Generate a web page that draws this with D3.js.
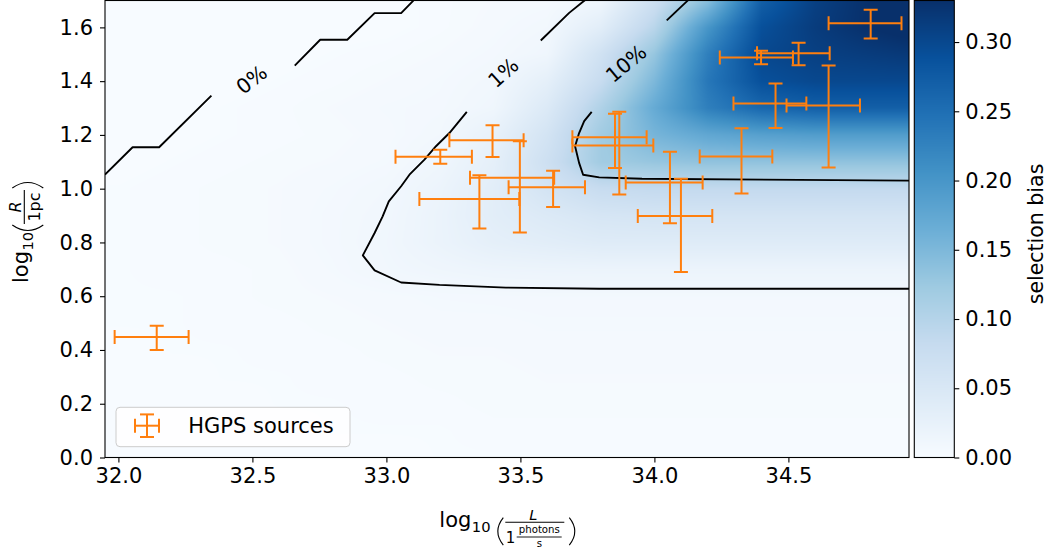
<!DOCTYPE html>
<html>
<head>
<meta charset="utf-8">
<script src="https://cdn.jsdelivr.net/npm/d3@7"></script>
<style>
  body { margin: 0; background: #ffffff; }
  svg { display: block; font-family: "DejaVu Sans", sans-serif; }
</style>
</head>
<body>
<svg id="chart" width="1048" height="554"></svg>
<script>
// ---------------- data ----------------
// selection-bias field sampled on a regular grid (rows follow gridLogR, columns gridLogL)
const gridLogL = [32.0, 32.2, 32.4, 32.6, 32.8, 33.0, 33.2, 33.4, 33.6, 33.8, 34.0, 34.2, 34.4, 34.6, 34.8, 35.0];
const gridLogR = [0.0, 0.1, 0.2, 0.3, 0.4, 0.5, 0.6, 0.7, 0.8, 0.9, 1.0, 1.1, 1.2, 1.3, 1.4, 1.5, 1.6, 1.7];
const biasRow00 = [0, 0, 0, 0, 0, 0, 0.001, 0.001, 0.001, 0.001, 0.001, 0.001, 0.001, 0.001, 0.001, 0.001];
const biasRow01 = [0, 0, 0, 0, 0.001, 0.001, 0.001, 0.002, 0.002, 0.002, 0.002, 0.002, 0.002, 0.002, 0.002, 0.002];
const biasRow02 = [0, 0, 0, 0.001, 0.001, 0.002, 0.002, 0.003, 0.003, 0.003, 0.003, 0.003, 0.003, 0.003, 0.003, 0.003];
const biasRow03 = [0, 0, 0.001, 0.001, 0.002, 0.002, 0.003, 0.003, 0.004, 0.004, 0.004, 0.004, 0.004, 0.004, 0.004, 0.004];
const biasRow04 = [0, 0.001, 0.001, 0.002, 0.002, 0.003, 0.004, 0.004, 0.005, 0.005, 0.005, 0.005, 0.005, 0.005, 0.005, 0.005];
const biasRow05 = [0.001, 0.001, 0.002, 0.002, 0.003, 0.004, 0.005, 0.005, 0.006, 0.006, 0.006, 0.006, 0.006, 0.006, 0.006, 0.006];
const biasRow06 = [0.001, 0.001, 0.002, 0.003, 0.004, 0.005, 0.0065, 0.007, 0.0075, 0.0075, 0.0075, 0.0075, 0.0075, 0.0075, 0.0075, 0.0075];
const biasRow07 = [0.001, 0.002, 0.002, 0.003, 0.006, 0.0105, 0.014, 0.017, 0.018, 0.0185, 0.0185, 0.0185, 0.0185, 0.0185, 0.0185, 0.0185];
const biasRow08 = [0.001, 0.002, 0.003, 0.004, 0.007, 0.0115, 0.02, 0.03, 0.035, 0.04, 0.04, 0.04, 0.04, 0.04, 0.04, 0.04];
const biasRow09 = [0.001, 0.002, 0.003, 0.004, 0.007, 0.0105, 0.02, 0.035, 0.045, 0.055, 0.058, 0.058, 0.058, 0.058, 0.058, 0.058];
const biasRow10 = [0.001, 0.002, 0.003, 0.004, 0.006, 0.009, 0.018, 0.035, 0.06, 0.08, 0.085, 0.085, 0.085, 0.085, 0.085, 0.085];
const biasRow11 = [0, 0.001, 0.002, 0.003, 0.004, 0.006, 0.013, 0.03, 0.07, 0.12, 0.13, 0.135, 0.135, 0.135, 0.135, 0.135];
const biasRow12 = [0, 0, 0.001, 0.002, 0.003, 0.005, 0.009, 0.025, 0.06, 0.12, 0.155, 0.175, 0.185, 0.19, 0.19, 0.19];
const biasRow13 = [0, 0, 0.001, 0.002, 0.004, 0.006, 0.007, 0.013, 0.045, 0.105, 0.17, 0.23, 0.26, 0.27, 0.27, 0.27];
const biasRow14 = [0, 0, 0, 0.001, 0.002, 0.004, 0.006, 0.010, 0.03, 0.08, 0.15, 0.24, 0.29, 0.30, 0.30, 0.30];
const biasRow15 = [0, 0, 0, 0, 0.001, 0.002, 0.004, 0.007, 0.013, 0.065, 0.13, 0.23, 0.30, 0.31, 0.315, 0.32];
const biasRow16 = [0, 0, 0, 0, 0, 0, 0.002, 0.005, 0.009, 0.035, 0.095, 0.20, 0.29, 0.315, 0.33, 0.34];
const biasRow17 = [0, 0, 0, 0, 0, 0, 0.002, 0.004, 0.005, 0.013, 0.07, 0.14, 0.27, 0.31, 0.33, 0.34];
const biasGrid = [biasRow00, biasRow01, biasRow02, biasRow03, biasRow04, biasRow05, biasRow06, biasRow07, biasRow08,
                  biasRow09, biasRow10, biasRow11, biasRow12, biasRow13, biasRow14, biasRow15, biasRow16, biasRow17];

// HGPS sources: centre and error-bar extents
const srcLogL     = [32.143, 33.201, 33.396, 33.498, 33.347, 33.622, 33.853, 33.869, 34.058, 34.099, 34.325, 34.452, 34.650, 34.807, 34.538, 34.398];
const srcLogLLow  = [31.986, 33.034, 33.235, 33.312, 33.123, 33.456, 33.694, 33.694, 33.893, 33.938, 34.169, 34.295, 34.493, 34.650, 34.383, 34.244];
const srcLogLHigh = [32.262, 33.319, 33.512, 33.626, 33.496, 33.741, 33.971, 33.996, 34.180, 34.216, 34.440, 34.567, 34.767, 34.922, 34.654, 34.517];
const srcLogR     = [0.448, 1.119, 1.180, 1.041, 0.962, 1.005, 1.191, 1.161, 1.023, 0.898, 1.120, 1.317, 1.309, 1.615, 1.504, 1.488];
const srcLogRLow  = [0.400, 1.093, 1.118, 0.837, 0.852, 0.932, 1.077, 0.978, 0.871, 0.690, 0.982, 1.226, 1.079, 1.559, 1.459, 1.463];
const srcLogRHigh = [0.490, 1.145, 1.236, 1.176, 1.050, 1.067, 1.279, 1.286, 1.137, 1.037, 1.225, 1.391, 1.458, 1.666, 1.543, 1.513];

// contour lines of the bias field (logL, logR), split where the labels sit
const contour0Segments = [
  [[31.95, 1.052], [32.053, 1.154], [32.152, 1.154], [32.347, 1.346]],
  [[32.658, 1.458], [32.753, 1.554], [32.854, 1.554], [32.956, 1.653], [33.055, 1.653], [33.105, 1.704]]
];
const contour1Segments = [
  [[33.576, 1.551], [33.682, 1.654], [33.744, 1.704]],
  [[33.300, 1.286], [33.235, 1.207], [33.185, 1.158], [33.142, 1.108], [33.086, 1.052], [33.055, 1.009],
   [33.009, 0.953], [32.986, 0.897], [32.956, 0.835], [32.912, 0.752], [32.956, 0.696], [33.055, 0.651],
   [33.198, 0.642], [33.446, 0.632], [33.794, 0.628], [34.95, 0.628]]
];
const contour10Segments = [
  [[34.046, 1.626], [34.129, 1.704]],
  [[33.766, 1.286], [33.738, 1.251], [33.719, 1.207], [33.704, 1.158], [33.719, 1.096], [33.734, 1.052],
   [33.794, 1.042], [33.954, 1.037], [34.95, 1.030]]
];
const contourLabelText = ["0%", "1%", "10%"];
const contourLabelLogL = [32.497, 33.436, 33.894];
const contourLabelLogR = [1.406, 1.432, 1.466];

const xTickValues = [32.0, 32.5, 33.0, 33.5, 34.0, 34.5];
const yTickValues = [0.0, 0.2, 0.4, 0.6, 0.8, 1.0, 1.2, 1.4, 1.6];
const cbTickValues = [0.00, 0.05, 0.10, 0.15, 0.20, 0.25, 0.30];
const biasRange = [0, 0.33];
const legendLabel = "HGPS sources";
const colorbarLabel = "selection bias";

// ---------------- layout ----------------
const plot = { left: 105, right: 909, top: 0.5, bottom: 457.5 };
const cbar = { left: 914.3, right: 954.3 };
const FONT = 21;
const ORANGE = "#ff7f0e";

const svg = d3.select("#chart");
const x = d3.scaleLinear().domain([31.95, 34.95]).range([plot.left, plot.right]);
const y = d3.scaleLinear().domain([0, 1.7]).range([plot.bottom, plot.top]);

const bluesStops = ["#f7fbff", "#deebf7", "#c6dbef", "#9ecae1", "#6baed6", "#4292c6", "#2171b5", "#08519c", "#08306b"];
const color = d3.scaleLinear()
  .domain(bluesStops.map((_, i) => biasRange[0] + i * (biasRange[1] - biasRange[0]) / (bluesStops.length - 1)))
  .range(bluesStops)
  .clamp(true);

// colour lookup table
const LUT_N = 2048;
const lut = d3.range(LUT_N).map(i => d3.rgb(color(biasRange[0] + (biasRange[1] - biasRange[0]) * i / (LUT_N - 1))));
function lutColor(v) {
  let t = (v - biasRange[0]) / (biasRange[1] - biasRange[0]);
  t = Math.max(0, Math.min(1, t));
  return lut[Math.round(t * (LUT_N - 1))];
}

// ---------------- heat map ----------------
const gxi = d3.scaleLinear().domain([gridLogL[0], gridLogL[gridLogL.length - 1]]).range([0, gridLogL.length - 1]).clamp(true);
const gyi = d3.scaleLinear().domain([gridLogR[0], gridLogR[gridLogR.length - 1]]).range([0, gridLogR.length - 1]).clamp(true);
function field(lx, ly) {
  const fi = gxi(lx), fj = gyi(ly);
  const i0 = Math.min(Math.floor(fi), gridLogL.length - 2), j0 = Math.min(Math.floor(fj), gridLogR.length - 2);
  const tx = fi - i0, ty = fj - j0;
  const a = biasGrid[j0][i0], b = biasGrid[j0][i0 + 1], c = biasGrid[j0 + 1][i0], d = biasGrid[j0 + 1][i0 + 1];
  return (1 - tx) * (1 - ty) * a + tx * (1 - ty) * b + (1 - tx) * ty * c + tx * ty * d;
}

const pw = Math.round(plot.right - plot.left), ph = Math.round(plot.bottom - plot.top);
const cvs = document.createElement("canvas");
cvs.width = pw; cvs.height = ph;
const ctx = cvs.getContext("2d");
const img = ctx.createImageData(pw, ph);
for (let j = 0; j < ph; j++) {
  const ly = y.invert(plot.top + j + 0.5);
  for (let i = 0; i < pw; i++) {
    const lx = x.invert(plot.left + i + 0.5);
    const c = lutColor(field(lx, ly));
    const k = (j * pw + i) * 4;
    img.data[k] = c.r; img.data[k + 1] = c.g; img.data[k + 2] = c.b; img.data[k + 3] = 255;
  }
}
ctx.putImageData(img, 0, 0);
svg.append("image")
  .attr("x", plot.left).attr("y", plot.top)
  .attr("width", pw).attr("height", ph)
  .attr("preserveAspectRatio", "none")
  .attr("href", cvs.toDataURL());

// clip for plot contents
svg.append("defs").append("clipPath").attr("id", "plotClip")
  .append("rect").attr("x", plot.left).attr("y", plot.top)
  .attr("width", plot.right - plot.left).attr("height", plot.bottom - plot.top);

// ---------------- contours ----------------
const line = d3.line().x(d => x(d[0])).y(d => y(d[1]));
const contourG = svg.append("g").attr("clip-path", "url(#plotClip)");
[contour0Segments, contour1Segments, contour10Segments].forEach(segs => {
  segs.forEach(seg => {
    contourG.append("path").attr("d", line(seg))
      .attr("fill", "none").attr("stroke", "#000").attr("stroke-width", 1.9)
      .attr("stroke-linejoin", "round");
  });
});
const labelAngles = [-38, -42, -40];
contourLabelText.forEach((t, i) => {
  svg.append("text")
    .attr("transform", `translate(${x(contourLabelLogL[i])},${y(contourLabelLogR[i])}) rotate(${labelAngles[i]})`)
    .attr("text-anchor", "middle").attr("dy", "0.36em")
    .attr("font-size", 20.5).attr("fill", "#000").text(t);
});

// ---------------- error bars ----------------
const CAP = 7;
function drawErrorBar(g, cx, cy, xl, xh, yl, yh) {
  const s = (sel) => sel.attr("stroke", ORANGE).attr("stroke-width", 2).attr("fill", "none");
  s(g.append("line").attr("x1", xl).attr("x2", xh).attr("y1", cy).attr("y2", cy));
  s(g.append("line").attr("x1", cx).attr("x2", cx).attr("y1", yl).attr("y2", yh));
  s(g.append("line").attr("x1", xl).attr("x2", xl).attr("y1", cy - CAP).attr("y2", cy + CAP));
  s(g.append("line").attr("x1", xh).attr("x2", xh).attr("y1", cy - CAP).attr("y2", cy + CAP));
  s(g.append("line").attr("x1", cx - CAP).attr("x2", cx + CAP).attr("y1", yl).attr("y2", yl));
  s(g.append("line").attr("x1", cx - CAP).attr("x2", cx + CAP).attr("y1", yh).attr("y2", yh));
}
const barsG = svg.append("g").attr("clip-path", "url(#plotClip)");
srcLogL.forEach((lx, i) => {
  drawErrorBar(barsG.append("g"), x(lx), y(srcLogR[i]),
    x(srcLogLLow[i]), x(srcLogLHigh[i]), y(srcLogRLow[i]), y(srcLogRHigh[i]));
});

// ---------------- axes frame & ticks ----------------
svg.append("rect").attr("x", plot.left).attr("y", plot.top)
  .attr("width", plot.right - plot.left).attr("height", plot.bottom - plot.top)
  .attr("fill", "none").attr("stroke", "#000").attr("stroke-width", 1.1);

const xAxis = svg.append("g").attr("transform", `translate(0,${plot.bottom})`)
  .call(d3.axisBottom(x).tickValues(xTickValues).tickFormat(d3.format(".1f")).tickSize(5).tickPadding(6));
const yAxis = svg.append("g").attr("transform", `translate(${plot.left},0)`)
  .call(d3.axisLeft(y).tickValues(yTickValues).tickFormat(d3.format(".1f")).tickSize(5).tickPadding(7));
[xAxis, yAxis].forEach(a => {
  a.select(".domain").remove();
  a.selectAll(".tick line").attr("stroke", "#000").attr("stroke-width", 1.1);
  a.selectAll(".tick text").attr("font-size", FONT).attr("font-family", "DejaVu Sans").attr("fill", "#000");
});

// ---------------- legend ----------------
const leg = svg.append("g");
leg.append("rect").attr("x", 116).attr("y", 407.3).attr("width", 234).attr("height", 39.4)
  .attr("rx", 4).attr("fill", "#fff").attr("fill-opacity", 0.8)
  .attr("stroke", "#cccccc").attr("stroke-width", 1);
drawErrorBar(leg.append("g"), 147, 425.7, 135, 159, 437, 414.4);
leg.append("text").attr("x", 188.3).attr("y", 433).attr("font-size", FONT).attr("fill", "#000").text(legendLabel);

// ---------------- colour bar ----------------
const cbY = d3.scaleLinear().domain(biasRange).range([plot.bottom, plot.top]);
const cbH = Math.round(plot.bottom - plot.top), cbW = Math.round(cbar.right - cbar.left);
const cbCvs = document.createElement("canvas");
cbCvs.width = cbW; cbCvs.height = cbH;
const cbCtx = cbCvs.getContext("2d");
for (let j = 0; j < cbH; j++) {
  cbCtx.fillStyle = color(cbY.invert(plot.top + j + 0.5));
  cbCtx.fillRect(0, j, cbW, 1);
}
svg.append("image").attr("x", cbar.left).attr("y", plot.top).attr("width", cbW).attr("height", cbH)
  .attr("preserveAspectRatio", "none").attr("href", cbCvs.toDataURL());
svg.append("rect").attr("x", cbar.left).attr("y", plot.top).attr("width", cbar.right - cbar.left)
  .attr("height", plot.bottom - plot.top).attr("fill", "none").attr("stroke", "#000").attr("stroke-width", 1.1);
const cbAxis = svg.append("g").attr("transform", `translate(${cbar.right},0)`)
  .call(d3.axisRight(cbY).tickValues(cbTickValues).tickFormat(d3.format(".2f")).tickSize(5).tickPadding(6));
cbAxis.select(".domain").remove();
cbAxis.selectAll(".tick line").attr("stroke", "#000").attr("stroke-width", 1.1);
cbAxis.selectAll(".tick text").attr("font-size", FONT).attr("font-family", "DejaVu Sans").attr("fill", "#000");
svg.append("text").attr("transform", `translate(1043,234) rotate(-90)`)
  .attr("text-anchor", "middle").attr("font-size", 20.5).attr("fill", "#000").text(colorbarLabel);

// ---------------- axis labels: log10( fraction ) ----------------
function paren(g, x0, top, bottom, open) {
  const mid = (top + bottom) / 2, bulge = open ? -11 : 11;
  g.append("path").attr("d", `M${x0},${top} Q${x0 + bulge},${mid} ${x0},${bottom}`)
    .attr("fill", "none").attr("stroke", "#000").attr("stroke-width", 1.1);
}
function logLabel(g) {
  g.append("text").attr("x", 0).attr("y", 0).attr("font-size", FONT).attr("fill", "#000").text("log");
  g.append("text").attr("x", 32.5).attr("y", 5).attr("font-size", 14.7).attr("fill", "#000").text("10");
}

// x label
const xl = svg.append("g").attr("transform", "translate(439.3,526.7)");
logLabel(xl);
paren(xl, 64, -9, 18.5, true);
xl.append("line").attr("x1", 66).attr("x2", 125).attr("y1", -4.4).attr("y2", -4.4).attr("stroke", "#000").attr("stroke-width", 1.1);
xl.append("text").attr("x", 94).attr("y", -7).attr("text-anchor", "middle").attr("font-size", 14.7)
  .attr("font-style", "italic").attr("fill", "#000").text("L");
xl.append("text").attr("x", 66.5).attr("y", 16.6).attr("font-size", 15).attr("fill", "#000").text("1");
xl.append("text").attr("x", 100).attr("y", 6.3).attr("text-anchor", "middle").attr("font-size", 10.2).attr("fill", "#000").text("photons");
xl.append("line").attr("x1", 77.4).attr("x2", 122.4).attr("y1", 10.3).attr("y2", 10.3).attr("stroke", "#000").attr("stroke-width", 0.9);
xl.append("text").attr("x", 100).attr("y", 20).attr("text-anchor", "middle").attr("font-size", 10.2).attr("fill", "#000").text("s");
paren(xl, 130, -9, 18.5, false);

// y label
const yl = svg.append("g").attr("transform", "translate(28.3,283) rotate(-90)");
logLabel(yl);
paren(yl, 58, -16, 15, true);
yl.append("line").attr("x1", 59).attr("x2", 93).attr("y1", -4).attr("y2", -4).attr("stroke", "#000").attr("stroke-width", 1.1);
yl.append("text").attr("x", 76).attr("y", -7).attr("text-anchor", "middle").attr("font-size", 16)
  .attr("font-style", "italic").attr("fill", "#000").text("R");
yl.append("text").attr("x", 76).attr("y", 11.5).attr("text-anchor", "middle").attr("font-size", 16).attr("fill", "#000").text("1pc");
paren(yl, 95, -16, 15, false);
</script>
</body>
</html>
